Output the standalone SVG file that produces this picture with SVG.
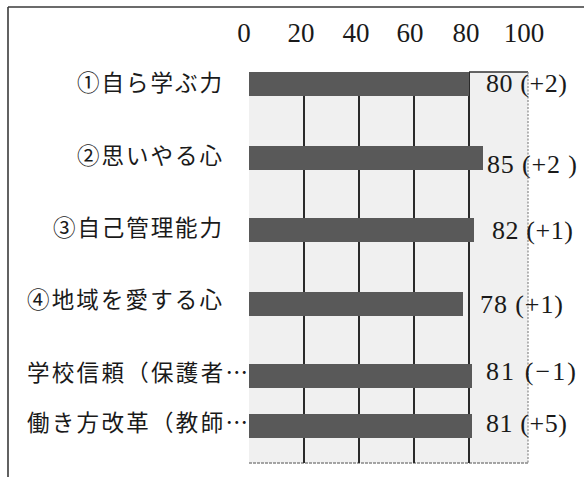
<svg xmlns="http://www.w3.org/2000/svg" width="584" height="477" viewBox="0 0 584 477">
<style>
.lab{font-family:"Noto Sans CJK JP","Noto Sans",sans-serif;font-size:22.5px;fill:#1a1a1a}
.num{font-family:"Liberation Serif","Times New Roman",serif;font-size:26px;fill:#1a1a1a}
.tick{font-family:"Liberation Serif","Times New Roman",serif;font-size:27px;fill:#1a1a1a;text-anchor:middle}
.bar{fill:#595959}
.grid{stroke:#2a2a2a;stroke-width:2}
</style>
<rect width="584" height="477" fill="#ffffff"/>
<g id="frame" fill="none" stroke="#3a3a3a" stroke-width="1.6">
<line x1="8" y1="7" x2="584" y2="7"/>
<line x1="8" y1="7" x2="8" y2="477"/>
</g>
<g id="plot">
<rect x="249" y="72" width="279" height="391" fill="#f0f0f0"/>
<line x1="469" y1="72" x2="528" y2="72" stroke="#333" stroke-width="1.5"/>
<line x1="249" y1="463" x2="528" y2="463" stroke="#888" stroke-width="1.3" stroke-dasharray="3 1"/>
<line x1="528" y1="72" x2="528" y2="463" stroke="#888" stroke-width="1.2" stroke-dasharray="2 1.5"/>
</g>
<g id="gridlines" class="grid">
<line x1="304" y1="72" x2="304" y2="463"/>
<line x1="359" y1="72" x2="359" y2="463"/>
<line x1="414" y1="72" x2="414" y2="463"/>
<line x1="469" y1="72" x2="469" y2="463"/>
</g>
<g id="axis">
<text class="tick" x="244" y="42">0</text>
<text class="tick" x="301" y="42">20</text>
<text class="tick" x="356" y="42">40</text>
<text class="tick" x="410" y="42">60</text>
<text class="tick" x="466" y="42">80</text>
<text class="tick" x="524" y="42">100</text>
</g>
<g id="row1">
<rect class="bar" x="249" y="72" width="220" height="24"/>
<text class="lab" x="77" y="91" textLength="145" lengthAdjust="spacing">①自ら学ぶ力</text>
<text class="num" x="486" y="92" textLength="81" lengthAdjust="spacing">80 (+2)</text>
</g>
<g id="row2">
<rect class="bar" x="249" y="146" width="234" height="24"/>
<text class="lab" x="77" y="164" textLength="145" lengthAdjust="spacing">②思いやる心</text>
<text class="num" x="487" y="173" textLength="90" lengthAdjust="spacing">85 (+2 )</text>
</g>
<g id="row3">
<rect class="bar" x="249" y="218" width="225" height="24"/>
<text class="lab" x="53" y="236" textLength="169" lengthAdjust="spacing">③自己管理能力</text>
<text class="num" x="492" y="239" textLength="81" lengthAdjust="spacing">82 (+1)</text>
</g>
<g id="row4">
<rect class="bar" x="249" y="292" width="214" height="24"/>
<text class="lab" x="27" y="308" textLength="195" lengthAdjust="spacing">④地域を愛する心</text>
<text class="num" x="480" y="313" textLength="83" lengthAdjust="spacing">78 (+1)</text>
</g>
<g id="row5">
<rect class="bar" x="249" y="364" width="223" height="24"/>
<text class="lab" x="27" y="381" textLength="221" lengthAdjust="spacing">学校信頼（保護者…</text>
<text class="num" x="486" y="380" textLength="90" lengthAdjust="spacing">81 (−1)</text>
</g>
<g id="row6">
<rect class="bar" x="249" y="414" width="223" height="24"/>
<text class="lab" x="27" y="431" textLength="221" lengthAdjust="spacing">働き方改革（教師…</text>
<text class="num" x="486" y="432" textLength="81" lengthAdjust="spacing">81 (+5)</text>
</g>
</svg>
